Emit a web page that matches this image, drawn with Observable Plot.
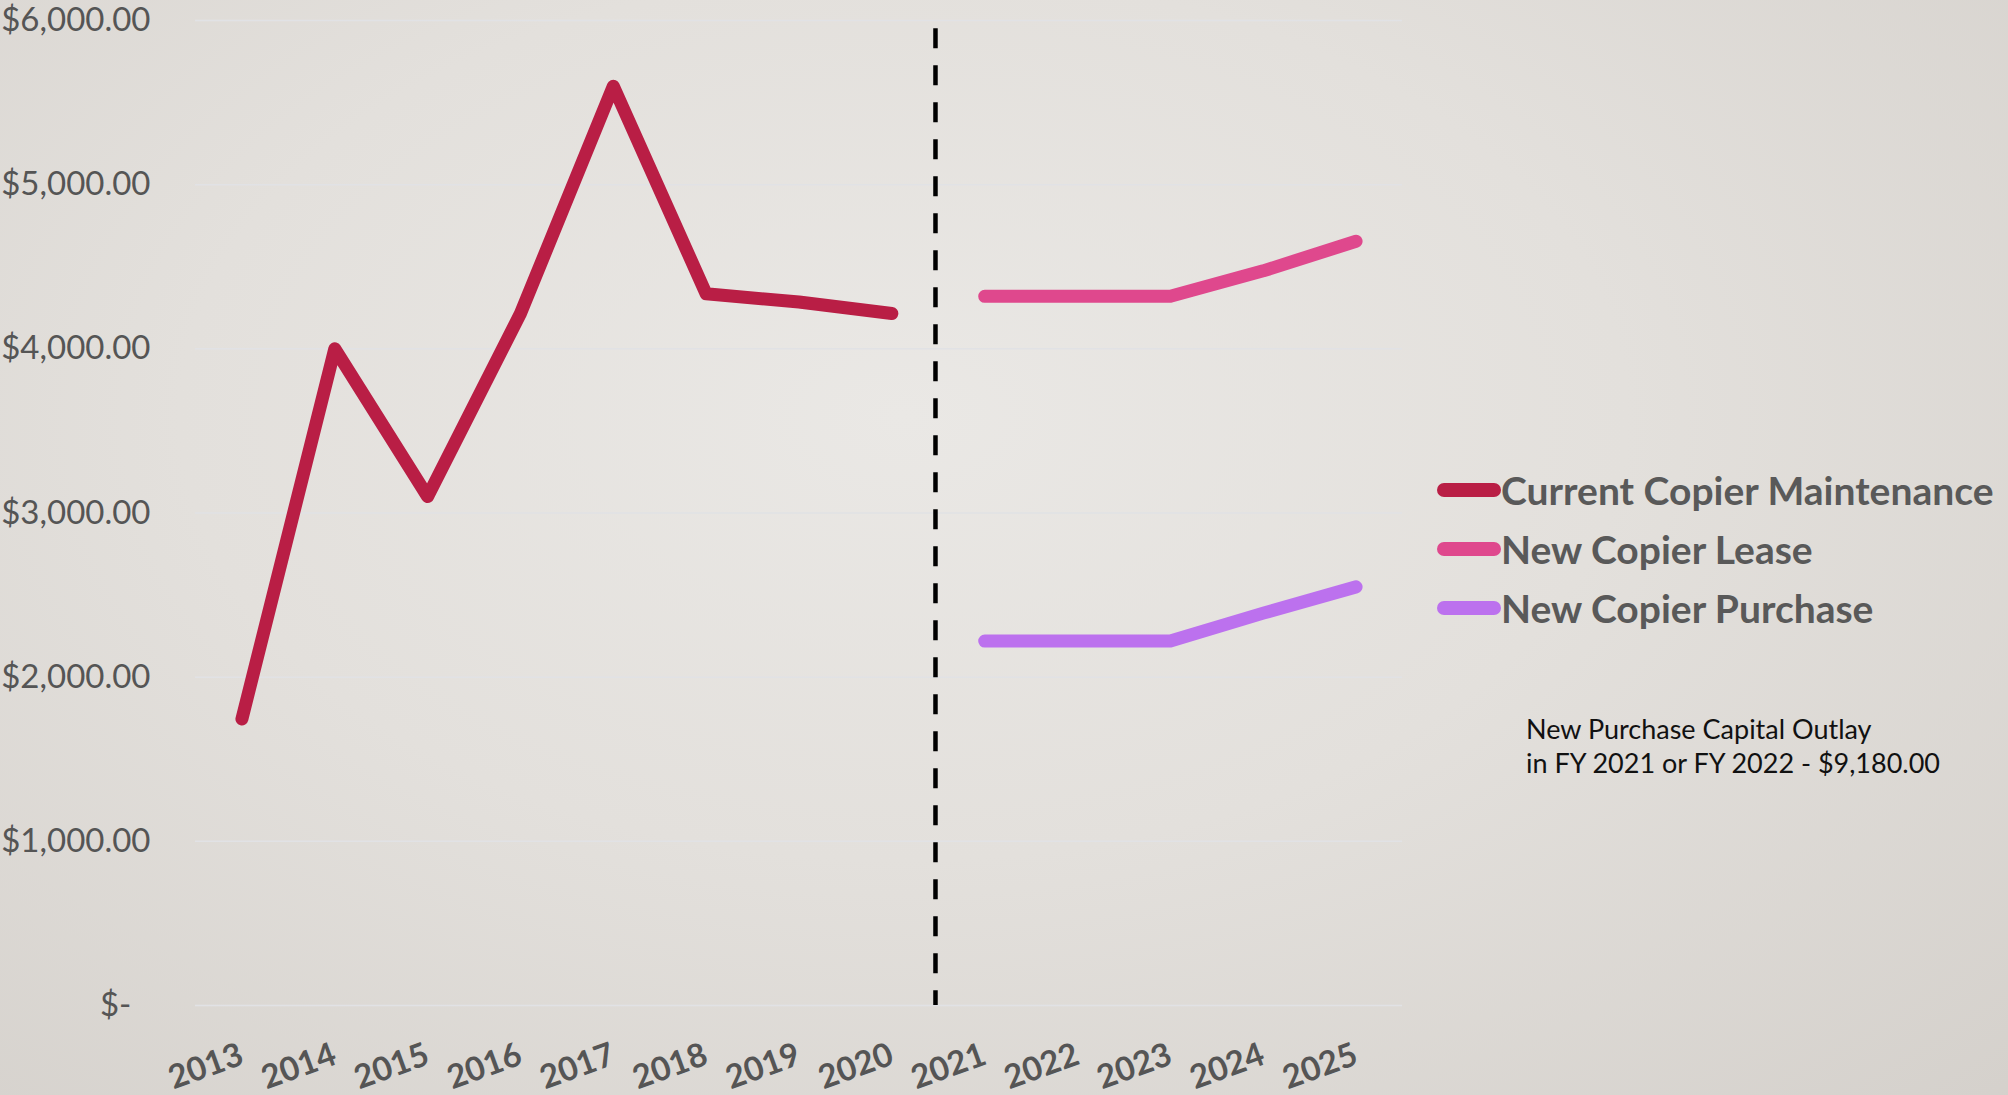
<!DOCTYPE html>
<html><head><meta charset="utf-8">
<script src="https://cdn.jsdelivr.net/npm/d3@7"></script>
<script src="https://cdn.jsdelivr.net/npm/@observablehq/plot@0.6"></script>
<style>
html,body{margin:0;padding:0;}
body{width:2008px;height:1095px;overflow:hidden;
  background: radial-gradient(ellipse 80% 90% at 45% 38%, #EAE8E5 0%, #E3E0DC 45%, #D4D0CB 100%);
  font-family: "Gill Sans","Gill Sans MT",Lato,sans-serif;}
#wrap{position:relative;width:2008px;height:1095px;}
#wrap svg{position:absolute;left:0;top:0;}
#legend{position:absolute;left:1437px;top:460px;}
.item{display:flex;align-items:center;height:59px;}
.sw{width:64px;height:14px;border-radius:7px;flex:none;}
.lab{font-weight:700;font-size:39px;color:#595959;white-space:nowrap;}
#note{position:absolute;left:1526px;top:712px;font-size:27px;line-height:34px;color:#111;white-space:nowrap;}
</style></head>
<body><div id="wrap"></div>
<script>
// Data
const years = [2013, 2014, 2015, 2016, 2017, 2018, 2019, 2020, 2021, 2022, 2023, 2024, 2025];
const maintenanceYears = [2013, 2014, 2015, 2016, 2017, 2018, 2019, 2020];
const maintenance = [1745, 4000, 3100, 4215, 5600, 4335, 4285, 4215];
const futureYears = [2021, 2022, 2023, 2024, 2025];
const lease = [4320, 4320, 4320, 4475, 4655];
const purchase = [2220, 2220, 2220, 2390, 2550];
const yTicks = [0, 1000, 2000, 3000, 4000, 5000, 6000];
const dividerYear = 2020.47;
const dividerTop = 5950;
const seriesNames = ["Current Copier Maintenance", "New Copier Lease", "New Copier Purchase"];
const seriesColors = ["#B91E45", "#DF488D", "#BC71EE"];
const noteLines = ["New Purchase Capital Outlay", "in FY 2021 or FY 2022 - $9,180.00"];

const toRows = (xs, vs) => xs.map((x, i) => ({year: x, value: vs[i]}));
const fmtMoney = v => v === 0 ? "$-\u2007" : "$" + d3.format(",.2f")(v);

const chart = Plot.plot({
  width: 2008, height: 1095,
  marginLeft: 195, marginRight: 606, marginTop: 20, marginBottom: 90,
  style: {background: "transparent", fontFamily: '"Gill Sans","Gill Sans MT",Lato,sans-serif', overflow: "visible"},
  x: {type: "linear", domain: [2012.5, 2025.5]},
  y: {domain: [0, 6000]},
  marks: [
    Plot.ruleY(yTicks, {stroke: "#E1E2E5", strokeWidth: 1.5}),
    Plot.axisY({ticks: yTicks, tickSize: 0, tickPadding: 45, fontSize: 33, fill: "#555", tickFormat: fmtMoney, label: null}),
    Plot.axisX({ticks: years, tickSize: 0, tickPadding: 48, tickRotate: -20, fontSize: 33, fontWeight: 700, fill: "#555", textAnchor: "end", tickFormat: d => String(d), label: null}),
    Plot.ruleX([dividerYear], {x: d => d, y1: dividerTop, y2: 0, stroke: "#000", strokeWidth: 4.5, strokeDasharray: "20,17"}),
    Plot.line(toRows(maintenanceYears, maintenance), {x: "year", y: "value", stroke: seriesColors[0], strokeWidth: 13, strokeLinecap: "round", strokeLinejoin: "round"}),
    Plot.line(toRows(futureYears, lease), {x: "year", y: "value", stroke: seriesColors[1], strokeWidth: 13, strokeLinecap: "round", strokeLinejoin: "round"}),
    Plot.line(toRows(futureYears, purchase), {x: "year", y: "value", stroke: seriesColors[2], strokeWidth: 13, strokeLinecap: "round", strokeLinejoin: "round"})
  ]
});
const wrap = document.getElementById("wrap");
wrap.appendChild(chart);

const legend = document.createElement("div");
legend.id = "legend";
seriesNames.forEach((name, i) => {
  const item = document.createElement("div");
  item.className = "item";
  const sw = document.createElement("span");
  sw.className = "sw";
  sw.style.background = seriesColors[i];
  const lab = document.createElement("span");
  lab.className = "lab";
  lab.textContent = name;
  item.appendChild(sw); item.appendChild(lab);
  legend.appendChild(item);
});
wrap.appendChild(legend);

const note = document.createElement("div");
note.id = "note";
note.innerHTML = noteLines.map(s => s.replace(/&/g, "&amp;")).join("<br>");
wrap.appendChild(note);
</script>
</body></html>
